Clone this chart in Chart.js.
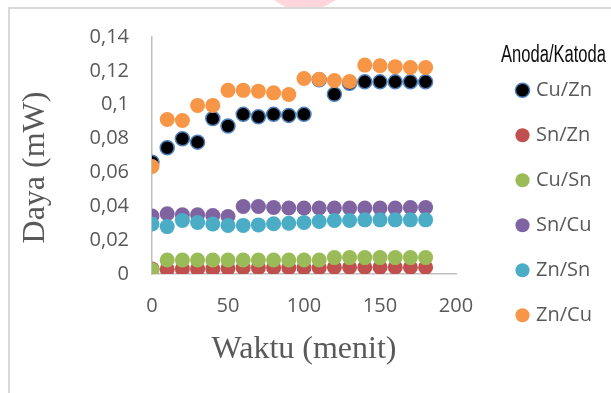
<!DOCTYPE html>
<html>
<head>
<meta charset="utf-8">
<script src="https://cdn.jsdelivr.net/npm/chart.js@4/dist/chart.umd.min.js"></script>
<style>
    body {margin: 0; background: #fff;}
    #wrap {position: relative; width: 611px; height: 393px; overflow: hidden;}
    .frame {position: absolute; left: 8px; top: 7px; width: 700px; height: 500px; border: 2px solid #d9d9d9;}
    .mark {position: absolute; left: 274px; top: 0; width: 62px; height: 7px; background: #ffd6db;
        clip-path: polygon(0 0, 100% 0, 80% 100%, 18% 100%);}
    canvas {position: absolute; left: 0; top: 0;}
</style>
</head>
<body>
<div id="wrap">
    <div class="frame"></div>
    <div class="mark"></div>
    <canvas id="chart" width="611" height="393"></canvas>
</div>
<script>
const waktu = [0, 10, 20, 30, 40, 50, 60, 70, 80, 90, 100, 110, 120, 130, 140, 150, 160, 170, 180]

const cuZn = [0.066, 0.0746, 0.0799, 0.0779, 0.0918, 0.0874, 0.0943, 0.0929, 0.0943, 0.0937, 0.0943, 0.1148, 0.1062, 0.1127, 0.1135, 0.1135, 0.1135, 0.1135, 0.1135]
const snZn = [0.003, 0.0028, 0.003, 0.003, 0.003, 0.0033, 0.0037, 0.0037, 0.0037, 0.0037, 0.0037, 0.0037, 0.004, 0.004, 0.004, 0.004, 0.004, 0.004, 0.004]
const cuSn = [0.0025, 0.0083, 0.0083, 0.0083, 0.0083, 0.0083, 0.0083, 0.0083, 0.0083, 0.0083, 0.0083, 0.0083, 0.0097, 0.0097, 0.0097, 0.0097, 0.0097, 0.0097, 0.0097]
const snCu = [0.0343, 0.0356, 0.035, 0.035, 0.0345, 0.034, 0.0399, 0.0399, 0.0393, 0.039, 0.039, 0.039, 0.039, 0.039, 0.039, 0.039, 0.039, 0.0393, 0.0393]
const znSn = [0.0295, 0.028, 0.0316, 0.0304, 0.0295, 0.0287, 0.0287, 0.029, 0.0297, 0.03, 0.0304, 0.031, 0.0316, 0.0316, 0.032, 0.032, 0.032, 0.032, 0.032]
const znCu = [0.0635, 0.0913, 0.0907, 0.0996, 0.0996, 0.1085, 0.1085, 0.108, 0.107, 0.106, 0.1155, 0.115, 0.1143, 0.1137, 0.1234, 0.123, 0.1225, 0.122, 0.122]

const seriesNames = ['Cu/Zn', 'Sn/Zn', 'Cu/Sn', 'Sn/Cu', 'Zn/Sn', 'Zn/Cu']
const seriesValues = [cuZn, snZn, cuSn, snCu, znSn, znCu]
const seriesColors = ['#000000', '#c0504d', '#9bbb59', '#8064a2', '#4bacc6', '#f79646']

const yTickLabels = ['0', '0,02', '0,04', '0,06', '0,08', '0,1', '0,12', '0,14']
const xTickLabels = ['0', '50', '100', '150', '200']
const legendTitle = 'Anoda/Katoda'

const tickFont = {family: "'Open Sans', sans-serif", size: 20}
const titleFont = {family: "'Liberation Serif', 'Times New Roman', serif", size: 32}

const datasets = seriesNames.map((name, i) => ({
    label: name,
    data: waktu.map((t, j) => ({x: t, y: seriesValues[i][j]})),
    backgroundColor: seriesColors[i],
    borderColor: i === 0 ? '#4f81bd' : seriesColors[i],
    borderWidth: i === 0 ? 1.5 : 0,
    pointRadius: i === 0 ? 7 : 7.5,
    // excel draws the later series on top
    order: seriesNames.length - i,
}))

// keep the legend box at a fixed width so the plot edge lands where it should
const legendWidth = {
    id: 'legend-width',
    beforeLayout(chart) {
        const lg = chart.legend
        if (!lg || lg._fixed) return
        const fit = lg.fit
        lg.fit = function () {
            fit.call(this)
            this.width = 117
        }
        lg._fixed = true
    },
}

// legend title in a narrow face: no condensed font here, so squeeze it
const narrowTitle = {
    id: 'narrow-title',
    afterDraw(chart) {
        const lg = chart.legend
        if (!lg) return
        const ctx = chart.ctx
        ctx.save()
        ctx.translate((lg.left + lg.right) / 2 + 1, lg.top + 25)
        ctx.scale(0.72, 1)
        ctx.font = "23px 'Liberation Sans', Arial, sans-serif"
        ctx.fillStyle = '#0d0d0d'
        ctx.textAlign = 'center'
        ctx.textBaseline = 'alphabetic'
        ctx.fillText(legendTitle, 0, 0)
        ctx.restore()
    },
}

new Chart(document.getElementById('chart'), {
    type: 'scatter',
    data: {datasets},
    options: {
        responsive: false,
        animation: false,
        devicePixelRatio: 1,
        layout: {padding: {top: 37, left: 0, right: 0, bottom: 0}},
        plugins: {
            tooltip: {enabled: false},
            legend: {
                position: 'right',
                align: 'start',
                title: {
                    // only reserves the space, the visible one comes from narrowTitle
                    display: true,
                    text: legendTitle,
                    color: 'rgba(0,0,0,0)',
                    font: {size: 21, lineHeight: 1},
                    padding: {top: 4.5, bottom: -7.2},
                },
                labels: {
                    usePointStyle: true,
                    pointStyle: 'circle',
                    boxWidth: 7,
                    boxHeight: 10,
                    padding: 25,
                    color: '#595959',
                    font: {family: "'Open Sans', sans-serif", size: 20},
                    sort: (a, b) => a.datasetIndex - b.datasetIndex,
                },
            },
        },
        scales: {
            x: {
                type: 'linear',
                min: 0,
                max: 200,
                grid: {display: false, drawTicks: false},
                border: {display: true, color: '#bfbfbf', width: 1.5},
                ticks: {
                    stepSize: 50,
                    padding: 20,
                    color: '#595959',
                    font: tickFont,
                    callback: (v, i) => xTickLabels[i],
                },
                title: {
                    display: true,
                    text: 'Waktu (menit)',
                    color: '#595959',
                    font: titleFont,
                    padding: {top: 0, bottom: 24},
                },
                afterFit: s => { s.height = 119 },
            },
            y: {
                min: 0,
                max: 0.14,
                grid: {display: false, drawTicks: false},
                border: {display: true, color: '#bfbfbf', width: 1.5},
                ticks: {
                    stepSize: 0.02,
                    padding: 23,
                    color: '#595959',
                    font: tickFont,
                    callback: (v, i) => yTickLabels[i],
                },
                title: {
                    display: true,
                    // trailing spaces push the visible text down like in the original
                    text: 'Daya (mW)\u00a0\u00a0\u00a0',
                    color: '#595959',
                    font: titleFont,
                    padding: {top: 16, bottom: 0},
                },
                afterFit: s => { s.width = 152 },
            },
            gap: {
                type: 'linear',
                position: 'right',
                display: true,
                grid: {display: false},
                border: {display: false},
                ticks: {display: false},
                afterFit: s => { s.width = 38 },
            },
        },
    },
    plugins: [legendWidth, narrowTitle],
})
</script>
</body>
</html>
